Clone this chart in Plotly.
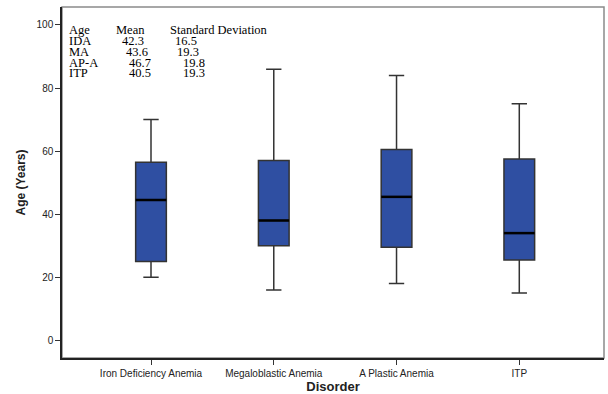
import plotly.graph_objects as go

categories = ["Iron Deficiency Anemia", "Megaloblastic Anemia", "A Plastic Anemia", "ITP"]
minimum = [20, 16, 18, 15]
q1 = [25, 30, 29.5, 25.5]
median = [44.5, 38, 45.5, 34]
q3 = [56.5, 57, 60.5, 57.5]
maximum = [70, 86, 84, 75]

table_header = ["Age", "Mean", "Standard Deviation"]
table_groups = ["IDA", "MA", "AP-A", "ITP"]
table_means = ["42.3", "43.6", "46.7", "40.5"]
table_sds = ["16.5", "19.3", "19.8", "19.3"]

xs = list(range(len(categories)))
box_w = 0.25

fig = go.Figure()
fig.add_trace(go.Box(
    x=xs, q1=q1, median=median, q3=q3, lowerfence=minimum, upperfence=maximum,
    width=box_w, whiskerwidth=0.5,
    fillcolor="#2F4FA2", line=dict(color="#333333", width=1.5),
    boxpoints=False, showlegend=False, hoverinfo="skip",
))
mx, my = [], []
for i, m in zip(xs, median):
    mx += [i - box_w / 2, i + box_w / 2, None]
    my += [m, m, None]
fig.add_trace(go.Scatter(x=mx, y=my, mode="lines", line=dict(color="black", width=2.5),
                         showlegend=False, hoverinfo="skip"))

serif = dict(family="Liberation Serif", size=12.5, color="black")
anns = []
col_x = [0.009, 0.096, 0.195]
row_h = 0.0308
top = 0.934
for j, h in enumerate(table_header):
    anns.append(dict(x=col_x[j], y=top, text=h))
mean_x = [0.107, 0.114, 0.12, 0.12]
sd_x = [0.205, 0.208, 0.219, 0.219]
for i, (g, m, s) in enumerate(zip(table_groups, table_means, table_sds)):
    y = top - (i + 1) * row_h
    anns.append(dict(x=col_x[0], y=y, text=g))
    anns.append(dict(x=mean_x[i], y=y, text=m))
    anns.append(dict(x=sd_x[i], y=y, text=s))
for a in anns:
    a.update(xref="paper", yref="paper", xanchor="left", yanchor="middle",
             showarrow=False, font=serif)

fig.update_layout(
    width=608, height=394, autosize=False,
    margin=dict(l=62, r=4, t=7, b=36, autoexpand=False),
    paper_bgcolor="white", plot_bgcolor="white",
    annotations=anns,
    shapes=[dict(type="rect", xref="paper", yref="paper", x0=0, y0=0, x1=1, y1=1,
                 line=dict(color="#8a8a8a", width=1.5), layer="below")],
    xaxis=dict(range=[-0.725, 3.69], tickmode="array", tickvals=xs, ticktext=categories,
               automargin=False,
               showline=True, linecolor="#222", linewidth=1.5, ticks="outside",
               ticklen=5, tickcolor="#333", showgrid=False, zeroline=False,
               tickfont=dict(family="Liberation Sans", size=10, color="#222"),
               title=dict(text="<b>Disorder</b>", standoff=4,
                          font=dict(family="Liberation Sans", size=13, color="#222"))),
    yaxis=dict(range=[-5.6, 105.7], tickvals=[0, 20, 40, 60, 80, 100],
               automargin=False,
               showline=True, linecolor="#222", linewidth=1.5, ticks="outside",
               ticklen=5, tickcolor="#333", showgrid=False, zeroline=False,
               tickfont=dict(family="Liberation Sans", size=10, color="#222"),
               title=dict(text="<b>Age (Years)</b>", standoff=8,
                          font=dict(family="Liberation Sans", size=12, color="#222"))),
)
fig.write_html("out.html", config={"displayModeBar": False},
               post_script="document.body.style.margin='0';document.body.style.overflow='hidden';")
